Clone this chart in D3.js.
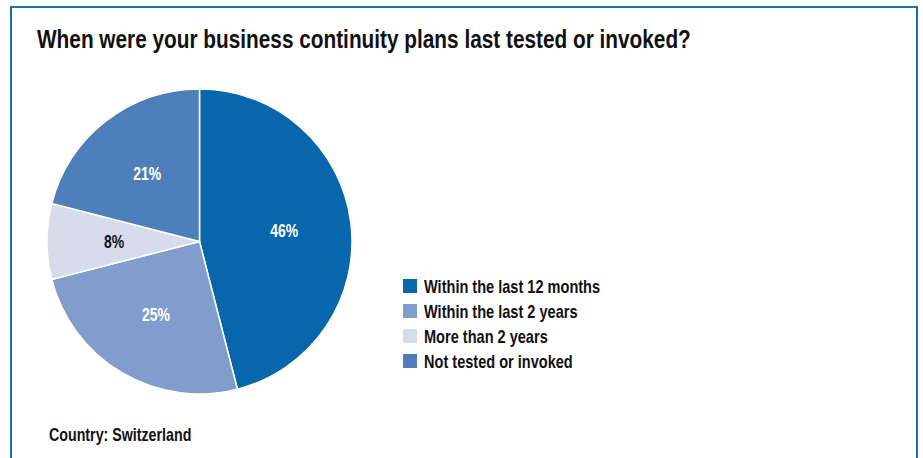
<!DOCTYPE html>
<html><head><meta charset="utf-8">
<script src="https://cdn.jsdelivr.net/npm/d3@7"></script>
<style>
html,body{margin:0;padding:0;background:#fff;}
svg text{font-family:"Liberation Sans",Arial,sans-serif;font-weight:bold;}
</style></head>
<body>
<svg id="chart" width="923" height="458"></svg>
<script>
const categories = ["Within the last 12 months","Within the last 2 years","More than 2 years","Not tested or invoked"];
const values = [46, 25, 8, 21];
const colors = ["#0866ad","#819dcb","#d6dcec","#4f7fba"];
const labelColors = ["#fff","#fff","#111","#fff"];
const title = "When were your business continuity plans last tested or invoked?";
const footnote = "Country: Switzerland";

const CONDENSE = 0.8;
const svg = d3.select("#chart");
svg.append("rect").attr("x",11).attr("y",7).attr("width",906).attr("height",460)
  .attr("fill","#fff").attr("stroke","#1a6fb5").attr("stroke-width",2);

function ctext(parent, x, y, size, str, fill, anchor){
  return parent.append("text")
    .attr("transform",`translate(${x},${y}) scale(${CONDENSE},1)`)
    .attr("font-size",size).attr("fill",fill||"#111")
    .attr("text-anchor",anchor||"start").text(str);
}

ctext(svg, 37, 48, 26, title);

const cx = 199.5, cy = 241.5, r = 152.5;
const pie = d3.pie().sort(null).value(d=>d)(values);
const arc = d3.arc().innerRadius(0).outerRadius(r);
const labelArc = d3.arc().innerRadius(r*0.56).outerRadius(r*0.56);
const g = svg.append("g").attr("transform",`translate(${cx},${cy})`);
g.selectAll("path").data(pie).join("path")
  .attr("d",arc).attr("fill",(d,i)=>colors[i]).attr("stroke","#fff").attr("stroke-width",1.5);
pie.forEach((d,i)=>{
  const [lx,ly] = labelArc.centroid(d);
  ctext(g, lx, ly+6, 17.5, d.data+"%", labelColors[i], "middle");
});

const lg = svg.append("g").attr("transform","translate(403,279)");
categories.forEach((c,i)=>{
  const row = lg.append("g").attr("transform",`translate(0,${i*25})`);
  row.append("rect").attr("width",14).attr("height",14).attr("fill",colors[i]);
  ctext(row, 21, 14, 18.2, c);
});

ctext(svg, 49, 441, 17.8, footnote);
</script>
</body></html>
